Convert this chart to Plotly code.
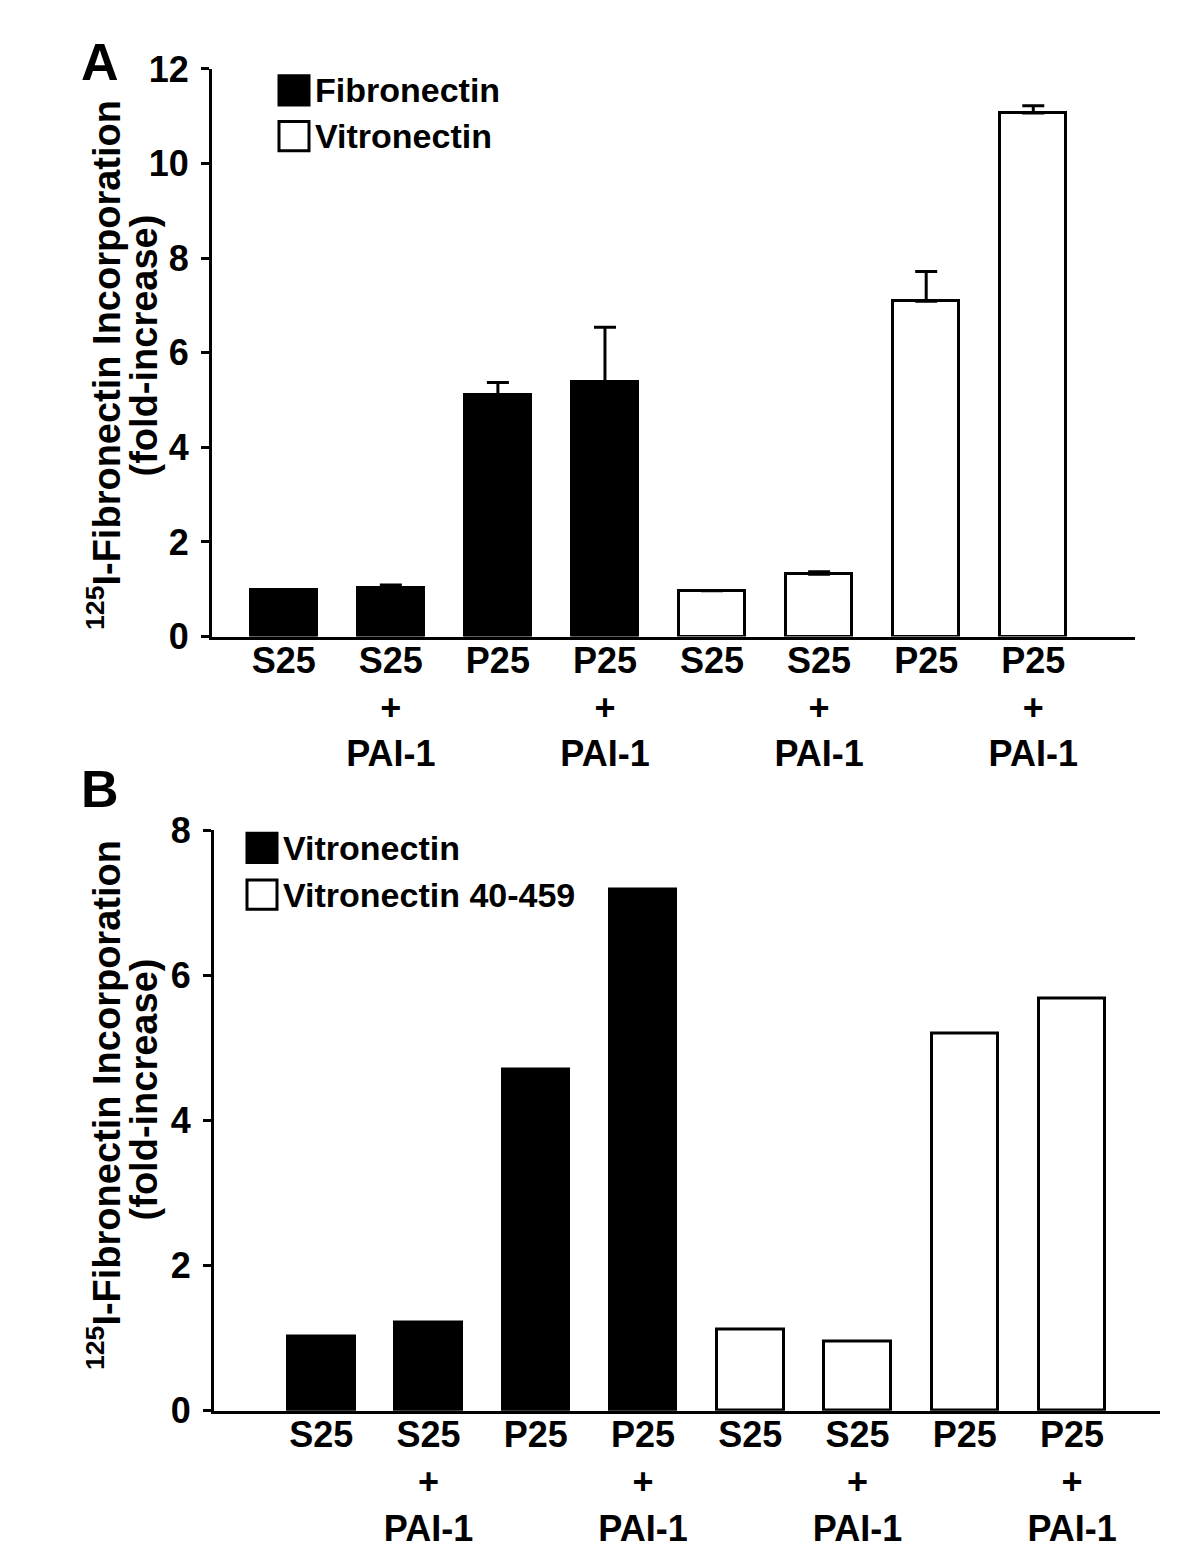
import plotly.graph_objects as go

W, H = 1200, 1563
OFF = 8  # page body margin offset compensation

# ---------------- data ----------------
cat_labels = ["S25", "S25<br>+<br>PAI-1", "P25", "P25<br>+<br>PAI-1",
              "S25", "S25<br>+<br>PAI-1", "P25", "P25<br>+<br>PAI-1"]

# Panel A
a_fib_vals = [0.99, 1.04, 5.10, 5.39]
a_fib_err = [0.0, 0.05, 0.27, 1.15]
a_vit_vals = [0.97, 1.32, 7.09, 11.07]
a_vit_err = [0.0, 0.05, 0.63, 0.15]

# Panel B
b_vit_vals = [1.02, 1.22, 4.71, 7.19]
b_vit4059_vals = [1.12, 0.96, 5.20, 5.69]

a_yticks = [0, 2, 4, 6, 8, 10, 12]
b_yticks = [0, 2, 4, 6, 8]

FONT = "Liberation Sans, Arial, Helvetica, sans-serif"


def px(x):
    return (x - OFF) / W


def py(y):
    return 1 - (y - OFF) / H


fig = go.Figure()

pos_first = [0, 1, 2, 3]
pos_second = [4, 5, 6, 7]

bar_w = 0.62
line_w = 3

fig.add_trace(go.Bar(
    x=pos_first, y=a_fib_vals, width=bar_w,
    marker=dict(color="black", line=dict(color="black", width=line_w)),
    error_y=dict(type="data", symmetric=False, array=a_fib_err,
                 arrayminus=[0] * 4, color="black", thickness=3, width=11),
    xaxis="x", yaxis="y", showlegend=False))
fig.add_trace(go.Bar(
    x=pos_second, y=a_vit_vals, width=bar_w,
    marker=dict(color="white", line=dict(color="black", width=line_w)),
    error_y=dict(type="data", symmetric=False, array=a_vit_err,
                 arrayminus=[0] * 4, color="black", thickness=3, width=11),
    xaxis="x", yaxis="y", showlegend=False))

fig.add_trace(go.Bar(
    x=pos_first, y=b_vit_vals, width=bar_w,
    marker=dict(color="black", line=dict(color="black", width=line_w)),
    xaxis="x2", yaxis="y2", showlegend=False))
fig.add_trace(go.Bar(
    x=pos_second, y=b_vit4059_vals, width=bar_w,
    marker=dict(color="white", line=dict(color="black", width=line_w)),
    xaxis="x2", yaxis="y2", showlegend=False))

xtickfont = dict(family=FONT, size=36, color="black", weight="bold")
ytickfont = dict(family=FONT, size=36, color="black", weight="bold")

common_x = dict(showline=True, linecolor="black", linewidth=3, ticks="",
                showgrid=False, zeroline=False, tickmode="array",
                tickvals=list(range(8)), ticktext=cat_labels,
                tickfont=xtickfont, ticklabelstandoff=-10, fixedrange=True)
common_y = dict(showline=True, linecolor="black", linewidth=3,
                ticks="outside", ticklen=8, tickwidth=3, tickcolor="black",
                showgrid=False, zeroline=False, tickfont=ytickfont,
                tickmode="array", ticklabelstandoff=5)

fig.update_layout(
    width=W, height=H,
    margin=dict(l=0, r=0, t=0, b=0),
    paper_bgcolor="white", plot_bgcolor="white",
    bargap=0,
    xaxis=dict(domain=[px(212), px(1135)], range=[-0.67, 7.95],
               anchor="y", **common_x),
    yaxis=dict(domain=[py(633), py(50)], range=[0, 12], anchor="x",
               tickvals=a_yticks, **common_y),
    xaxis2=dict(domain=[px(214), px(1160)], range=[-1.0, 7.82],
                anchor="y2", **common_x),
    yaxis2=dict(domain=[py(1428), py(832)], range=[0, 8], anchor="x2",
                tickvals=b_yticks, **common_y),
)

annotations = []
shapes = []


def text(x, y, s, size, xanchor="center", angle=0):
    annotations.append(dict(
        x=px(x), y=py(y), xref="paper", yref="paper", text=s,
        showarrow=False, xanchor=xanchor, yanchor="middle",
        textangle=angle,
        font=dict(family=FONT, size=size, color="black", weight="bold")))


def key(x0, yc, fill):
    shapes.append(dict(type="rect", xref="paper", yref="paper",
                       x0=px(x0), x1=px(x0 + 30), y0=py(yc + 15), y1=py(yc - 15),
                       fillcolor=fill, line=dict(color="black", width=3)))


# panel letters
text(100, 43, "A", 52)
text(100, 790, "B", 52)

# y-axis titles
title1 = "<sup>125</sup>I-Fibronectin Incorporation"
title2 = "(fold-increase)"
text(104, 354, title1, 38, angle=-90)
text(144, 334, title2, 38, angle=-90)
text(104, 1114, title1, 38, angle=-90)
text(144, 1098, title2, 38, angle=-90)

# legends
key(279, 72, "black")
text(313, 72, "Fibronectin", 34, xanchor="left")
key(279, 119, "white")
text(313, 119, "Vitronectin", 34, xanchor="left")

key(247, 850, "black")
text(281, 850, "Vitronectin", 34, xanchor="left")
key(247, 898, "white")
text(281, 898, "Vitronectin 40-459", 34, xanchor="left")

fig.update_layout(annotations=annotations, shapes=shapes)

fig.write_html("out.html")
